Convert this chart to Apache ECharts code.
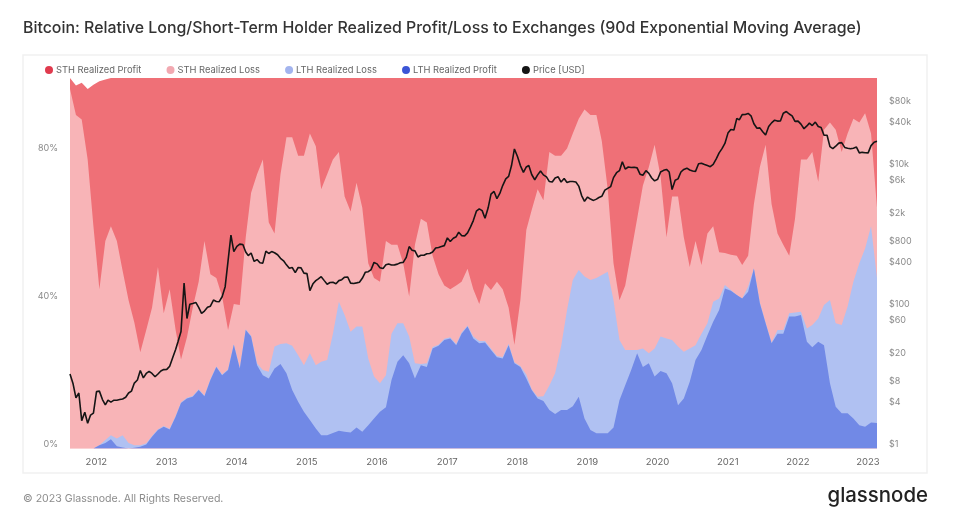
<!DOCTYPE html>
<html><head><meta charset="utf-8">
<style>html,body{margin:0;padding:0;background:#fff}#c{width:963px;height:529px}</style>
<script src="https://cdn.jsdelivr.net/npm/echarts@6/dist/echarts.min.js"></script>
</head><body><div id="c"></div>
<script>
// Monthly readings (17th of each month from Aug 2011), cumulative upper edge of each band, in %
const lthProfitTop=[0,0,0,0,0,0.9,1.5,2.5,0.6,0.3,0,0.2,0.5,1.1,3.2,5,5.9,5.1,8.6,12.3,13.5,14,15.8,14.1,18.5,22,19.8,21.2,28,21.6,32,30.2,22.5,19.8,18.9,21.6,22.8,20.3,15.8,12.6,9.9,7.7,5.4,3.6,3.6,4.2,4.8,4.5,4.3,5.7,4.5,6.3,8.1,9.9,11.1,18.5,23.4,25.2,23,18.9,22.5,22,27,27.7,29.3,29.7,27.9,31,32.9,29.7,28.4,28.6,26.6,24.6,24.3,27.9,23,22,18.9,15.8,13.5,12.8,10.4,9.3,10.4,10.4,11.4,14,8.1,5,4.1,4.1,4.1,5.7,13,17.1,21.2,25.7,22,23,19.4,20.9,20.3,17.6,11.7,13.5,18,23.9,26.6,30.6,34.2,37.4,43.2,42.6,41.4,40.5,42.3,48.6,39.2,33.8,28.4,31,31,35.6,35.6,36,28.8,27.3,28.8,27.9,17.6,11.3,9.5,9.5,8.1,6.3,5.9,7,6.9];
const lthLossTop=[0,0,0,0,0,0.9,2.3,3.6,2.7,3.6,1.5,0.9,0.9,1.4,3.4,5.2,6.1,5.3,8.8,12.5,13.7,14.2,16,14.3,18.7,22.2,20,21.4,28.2,21.8,32.2,30.4,23,21.2,20.7,27.5,28.2,28.4,27.7,25.2,22.5,25.7,22.5,23.4,23.9,31,39.6,36,31.5,32.9,32.9,24.3,19.4,17.6,19.8,31,33.8,33.8,30.2,23,22.8,23,27.4,28,29.6,30,28.2,31.3,33.2,30.2,29,29,27,25,24.7,28.3,23.3,22.3,20,16,14,14.1,17,20.3,27.5,37.4,45.5,48.2,46.4,45.5,46,46.8,47.7,40,29.3,26.6,26.6,26.6,27,25.7,27,30.2,29.7,29.3,27.5,26.1,27,27.9,31,33.8,39.6,40.5,44.1,42.8,41.4,40.5,43.7,48.6,39.5,34,28.6,32,32,36.5,36.7,36.9,32.4,33.3,35.1,38.7,40.1,33.8,33.3,38.3,45,50,54,60,46];
const sthLossTop=[97,90,88.8,78,60,43,56,60,56,48,40,34,26,32,38,49,36.5,43,32,24,30,38,45,56,47,46,41,32,39,38.7,57,69,74,78,61,58,74,84,84,79,79,85,81.6,70,74,78,80,68,64,71.7,65,50,46,45,56,55,55,50,41,55,62,61,52,47,44,43,44,45,48.5,43,39,44.6,42.8,45,43,38,28,40,59,64.4,70,67,80,79,79,81,85,89,91.5,90,90,83,70,50,40,44,53,62,71,76,82,73.5,57,68,68,57,49,56,49.5,58,60,53,52.8,52.3,52,49.5,52,66,76,82,66,58,55,52,62,78,78,80,72,86,88,86,80,85,89,88,90.5,85,65];
const sthProfitStart=[100,98,98.7,97,98.2,99.1,99.6];
// Price in USD, twice a month (2nd and 17th) from 17 Aug 2011
const priceUsd=[11.6,8.4,5.3,6.2,2.5,3.3,2.3,3.0,3.2,
6.5,6.6,5.0,4.2,4.9,4.6,4.9,4.9,5.0,5.1,5.4,6.2,6.6,8.6,9.5,13,10.2,11.8,12.6,11.8,10.6,11.6,12.8,13.4,
13.5,15,20,26,34,47,231,72,115,118,122,104,85,92,104,108,132,126,125,147,205,480,1120,650,
770,830,820,640,570,620,470,500,450,445,660,610,650,625,585,520,480,420,375,385,325,385,380,320,
315,180,225,250,265,285,250,222,235,237,225,250,258,280,282,230,228,232,237,270,330,335,360,455,
434,382,373,420,432,417,420,430,450,455,537,765,680,665,545,575,575,605,610,640,730,745,770,790,
1020,905,1010,1060,1230,1100,1090,1200,1450,1800,2450,2650,2500,1950,2720,4300,4700,3700,4400,5700,7100,7700,11000,19000,
14800,11000,8800,10500,11000,8200,6900,8100,9200,8100,7600,6500,6400,7300,7600,6400,7200,6300,6500,6500,6400,5600,4100,3400,
3900,3650,3500,3650,3850,4000,4900,5200,5500,7400,8700,9300,12500,9800,10500,10300,10400,10200,8300,8000,9300,8500,7300,6650,
7000,8900,9400,9700,8900,5000,6800,7100,8900,9700,10100,9500,9200,9100,11700,11900,11400,11000,10600,11400,13700,16700,19200,22800,
32000,36000,35500,52000,49500,58800,59000,61000,56500,43500,37500,38000,33500,30000,39700,44800,49000,47500,47700,61500,65000,60000,56500,47000,
47500,43000,37000,40500,44400,41000,46000,39700,38500,29800,29800,20500,19200,20800,23000,23400,20000,19400,19100,19500,20200,16700,17000,16800,
16700,21200,23700,24500];
const leftTicks=[0,40,80];
const priceTicks=[1,4,8,20,60,100,400,800,2000,6000,10000,40000,80000];
const yearTicks=[2012,2013,2014,2015,2016,2017,2018,2019,2020,2021,2022,2023];
const names=['STH Realized Profit','STH Realized Loss','LTH Realized Loss','LTH Realized Profit','Price [USD]'];

const monthDates=lthProfitTop.map((_,i)=>Date.UTC(2011,7+i,17));
const priceDates=priceUsd.map((_,j)=>Date.UTC(2011,7+Math.ceil(j/2),j%2?2:17));
const pairs=vals=>vals.map((v,i)=>[monthDates[i],v]);
const sthProfitTop=lthProfitTop.map((_,i)=>i<sthProfitStart.length?sthProfitStart[i]:100);
const area=(name,vals,dot,fill)=>({name,type:'line',data:pairs(vals),showSymbol:false,symbol:'circle',
  lineStyle:{width:0},itemStyle:{color:dot},areaStyle:{color:fill,opacity:1},silent:true,z:2});
const muted='#8a8a8a';
const chart=echarts.init(document.getElementById('c'),null,{renderer:'canvas'});
chart.setOption({
  animation:false,backgroundColor:'#fff',
  textStyle:{fontFamily:'Inter'},
  title:[
    {text:'Bitcoin: Relative Long/Short-Term Holder Realized Profit/Loss to Exchanges (90d Exponential Moving Average)',left:18,top:15,textStyle:{fontFamily:'Inter',fontSize:15.9,fontWeight:500,color:'#333'}},
    {text:'© 2023 Glassnode. All Rights Reserved.',left:18,top:488,textStyle:{fontFamily:'Inter',fontSize:10.6,fontWeight:400,color:'#8c8c8c'}},
    {text:'glassnode',right:30,top:481,textStyle:{fontFamily:'Inter',fontSize:20.4,fontWeight:500,color:'#222'}}
  ],
  graphic:[{type:'rect',z:-1,shape:{x:23,y:55,width:904,height:418},style:{fill:'#fff',stroke:'#f1f1f1',lineWidth:1.5}}],
  legend:{left:40,top:60.5,itemWidth:8,itemHeight:8,itemGap:25.2,icon:'circle',data:names,selectedMode:false,
    textStyle:{fontFamily:'Inter',fontSize:9.35,color:'#666',padding:[0,0,0,-2]}},
  grid:{left:70,right:86,top:78,bottom:80.5},
  xAxis:{type:'value',scale:true,min:monthDates[0],max:monthDates[monthDates.length-1],
    axisLine:{show:false},axisTick:{show:false},splitLine:{show:false},
    axisLabel:{customValues:yearTicks.map(y=>Date.UTC(y,0,1)),formatter:v=>String(new Date(v).getUTCFullYear()),
      color:'#666',fontSize:9.5,margin:9,hideOverlap:false,showMinLabel:true,showMaxLabel:true}},
  yAxis:[
    {type:'value',min:0,max:100,position:'left',axisLine:{show:false},axisTick:{show:false},splitLine:{show:false},
     axisLabel:{customValues:leftTicks,formatter:'{value}%',color:muted,fontSize:9,margin:12,verticalAlign:'bottom',lineHeight:8}},
    {type:'log',logBase:10,min:1,max:196000,position:'right',axisLine:{show:false},axisTick:{show:false},splitLine:{show:false},
     axisLabel:{customValues:priceTicks,formatter:v=>{const a=Math.abs(v);return a>=1000?'$'+Math.round(a/1000)+'k':'$'+Math.round(a);},color:muted,fontSize:9,margin:12,verticalAlign:'bottom',lineHeight:8}}
  ],
  series:[
    area(names[0],sthProfitTop,'#e03a4e','#ef7077'),
    area(names[1],sthLossTop,'#f2a9b1','#f8b4b7'),
    area(names[2],lthLossTop,'#a3b4ee','#b0c1f2'),
    area(names[3],lthProfitTop,'#3b55d6','#7189e6'),
    {name:names[4],type:'line',yAxisIndex:1,data:priceUsd.map((v,j)=>[priceDates[j],v]),showSymbol:false,symbol:'circle',
     lineStyle:{color:'#151515',width:1.6},itemStyle:{color:'#151515'},silent:true,z:5}
  ]
});
</script></body></html>
